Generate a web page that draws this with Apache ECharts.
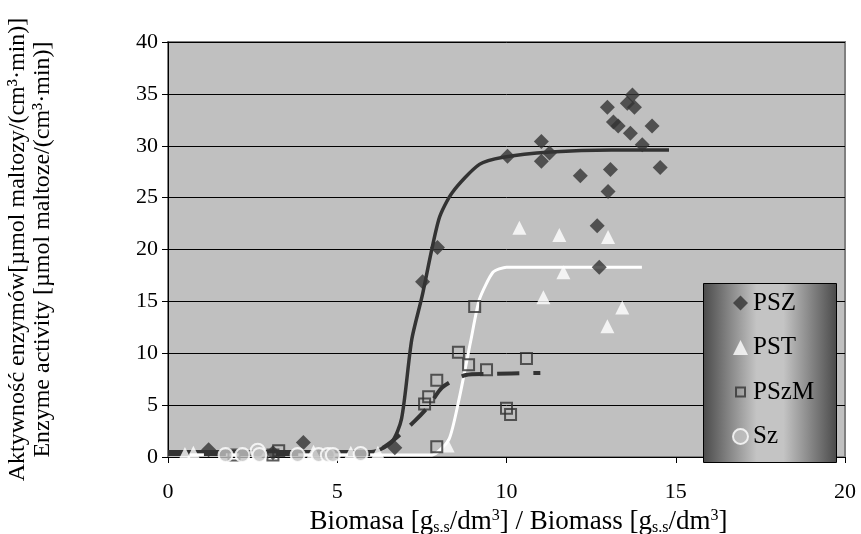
<!DOCTYPE html>
<html>
<head>
<meta charset="utf-8">
<script src="https://cdn.jsdelivr.net/npm/echarts@6/dist/echarts.min.js"></script>
<style>
html, body { margin: 0; padding: 0; background: #fff; }
#chart { width: 861px; height: 534px; }
</style>
</head>
<body>
<div id="chart"></div>
<script>
// measured points (biomass, activity)
var pszX = [1.2, 3.1, 4.0, 6.7, 7.52, 7.96, 10.03, 11.03, 11.27, 11.03, 12.18, 12.68, 12.74, 12.98, 13.72, 13.57, 13.78, 13.16, 13.3, 13.66, 14.3, 14.01, 13.07, 14.54, 13.0];
var pszY = [0.7, 0.4, 1.4, 0.9, 16.9, 20.2, 29.0, 30.4, 29.3, 28.5, 27.1, 22.3, 18.3, 33.7, 34.9, 34.1, 33.7, 32.3, 31.9, 31.2, 31.9, 30.1, 27.7, 27.9, 25.6];

var pstX = [0.5, 0.75, 4.3, 5.4, 6.2, 8.26, 10.38, 11.56, 13.0, 11.68, 11.09, 13.42, 12.98];
var pstY = [0.3, 0.4, 0.5, 0.4, 0.4, 1.1, 22.1, 21.4, 21.2, 17.8, 15.4, 14.4, 12.6];

var pszmX = [1.95, 3.1, 3.27, 7.94, 7.58, 7.7, 7.94, 8.58, 8.88, 9.06, 9.41, 10.0, 10.12, 10.59];
var pszmY = [0.2, 0.2, 0.6, 1.0, 5.1, 5.8, 7.4, 10.1, 8.9, 14.5, 8.4, 4.7, 4.1, 9.5];

var szX = [1.7, 2.2, 2.65, 2.7, 3.83, 4.45, 4.72, 4.87, 5.69];
var szY = [0.2, 0.2, 0.6, 0.2, 0.2, 0.2, 0.2, 0.2, 0.3];

// fitted curves
var pszFitX = [0, 6.0, 6.6, 6.9, 7.2, 7.5, 8.0, 8.4, 9.2, 9.9, 11.3, 13.1, 14.8];
var pszFitY = [0.5, 0.5, 1.4, 3.7, 11.3, 15.4, 22.9, 25.5, 28.2, 28.9, 29.4, 29.6, 29.6];

var pstFitX = [0, 7.8, 8.3, 8.6, 8.95, 9.2, 9.6, 10.0, 14.0];
var pstFitY = [0.2, 0.2, 1.7, 5.6, 11.3, 15.2, 17.8, 18.3, 18.3];

var pszmFitX = [0, 6.0, 6.4, 6.8, 7.3, 7.7, 8.1, 8.8, 9.4, 11.0];
var pszmFitY = [0.3, 0.3, 1.0, 2.0, 3.5, 4.9, 6.7, 7.9, 8.0, 8.1];

function zip(xs, ys) {
    var out = [];
    for (var i = 0; i < xs.length; i++) out.push([xs[i], ys[i]]);
    return out;
}

var serif = '"Liberation Serif", "DejaVu Serif", serif';
var chart = echarts.init(document.getElementById('chart'));

var option = {
    animation: false,
    grid: {
        left: 168, right: 16, top: 42, bottom: 77,
        outerBoundsMode: 'none',
        show: true,
        backgroundColor: '#c0c0c0',
        borderColor: '#808080',
        borderWidth: 2
    },
    xAxis: {
        type: 'value', min: 0, max: 20, interval: 5,
        axisLine: { lineStyle: { color: '#000', width: 1 } },
        axisTick: { show: true, length: 6, lineStyle: { color: '#000' } },
        splitLine: { show: false },
        axisLabel: { fontFamily: serif, fontSize: 22, color: '#000', margin: 24 },
        name: 'Biomasa [g{sub|s.s}/dm{sup|3}] / Biomass [g{sub|s.s}/dm{sup|3}]',
        nameLocation: 'middle',
        nameGap: 43,
        nameTextStyle: {
            fontFamily: serif, fontSize: 27, color: '#000', lineHeight: 28,
            padding: [0, 0, 0, 24],
            rich: {
                sub: { fontFamily: serif, fontSize: 16, color: '#000', verticalAlign: 'bottom', lineHeight: 28 },
                sup: { fontFamily: serif, fontSize: 16, color: '#000', verticalAlign: 'top', lineHeight: 28 }
            }
        }
    },
    yAxis: {
        type: 'value', min: 0, max: 40, interval: 5,
        axisLine: { show: true, lineStyle: { color: '#000', width: 1 } },
        axisTick: { show: true, length: 6, lineStyle: { color: '#000' } },
        splitLine: { show: true, lineStyle: { color: '#000', width: 1 } },
        axisLabel: { fontFamily: serif, fontSize: 22, color: '#000', margin: 10 },
        name: 'Aktywność enzymów[µmol maltozy/(cm³·min)]\nEnzyme activity [µmol maltoze/(cm³·min)]',
        nameLocation: 'middle',
        nameGap: 113,
        nameTextStyle: { fontFamily: serif, fontSize: 24, color: '#000', lineHeight: 25 }
    },
    graphic: [{
        type: 'rect',
        left: 703, top: 283,
        shape: { width: 133, height: 179 },
        style: {
            fill: new echarts.graphic.LinearGradient(0, 0, 1, 0, [
                { offset: 0, color: '#4a4a4a' },
                { offset: 0.4, color: '#c4c4c4' },
                { offset: 0.6, color: '#c4c4c4' },
                { offset: 1, color: '#4a4a4a' }
            ]),
            stroke: '#000', lineWidth: 1
        },
        z: 50
    }],
    legend: {
        data: [
            { name: 'PSZ' },
            { name: 'PST' },
            { name: 'PSzM', icon: 'path://M0,0M3,3L12,3L12,12L3,12ZM15,15' },
            { name: 'Sz' }
        ],
        orient: 'vertical',
        left: 732, top: 290,
        itemWidth: 15, itemHeight: 15,
        itemGap: 18.5,
        padding: 0,
        z: 60,
        textStyle: { fontFamily: serif, fontSize: 25, color: '#000', lineHeight: 26 }
    },
    series: [
        {
            name: 'PSZ fit', type: 'line', data: zip(pszFitX, pszFitY),
            showSymbol: false, smooth: 0.25, z: 3,
            lineStyle: { color: '#333', width: 3.5 }
        },
        {
            name: 'PST fit', type: 'line', data: zip(pstFitX, pstFitY),
            showSymbol: false, smooth: 0.2, z: 3,
            lineStyle: { color: '#fff', width: 3 }
        },
        {
            name: 'PSzM fit', type: 'line', data: zip(pszmFitX, pszmFitY),
            showSymbol: false, smooth: 0.25, z: 3,
            lineStyle: { color: '#333', width: 4, type: [22, 14] }
        },
        {
            name: 'PSZ', type: 'scatter', data: zip(pszX, pszY),
            symbol: 'diamond', symbolSize: 15, z: 5,
            itemStyle: { color: '#333' }
        },
        {
            name: 'PST', type: 'scatter', data: zip(pstX, pstY),
            symbol: 'triangle', symbolSize: 14, z: 5,
            itemStyle: { color: '#fff' }
        },
        {
            name: 'PSzM', type: 'scatter', data: zip(pszmX, pszmY),
            symbol: 'rect', symbolSize: 11, z: 5,
            itemStyle: { color: 'rgba(0,0,0,0)', borderColor: '#333', borderWidth: 2 }
        },
        {
            name: 'Sz', type: 'scatter', data: zip(szX, szY),
            symbol: 'circle', symbolSize: 14, z: 5,
            itemStyle: { color: '#c0c0c0', borderColor: '#fff', borderWidth: 2 }
        }
    ]
};

chart.setOption(option);
</script>
</body>
</html>
